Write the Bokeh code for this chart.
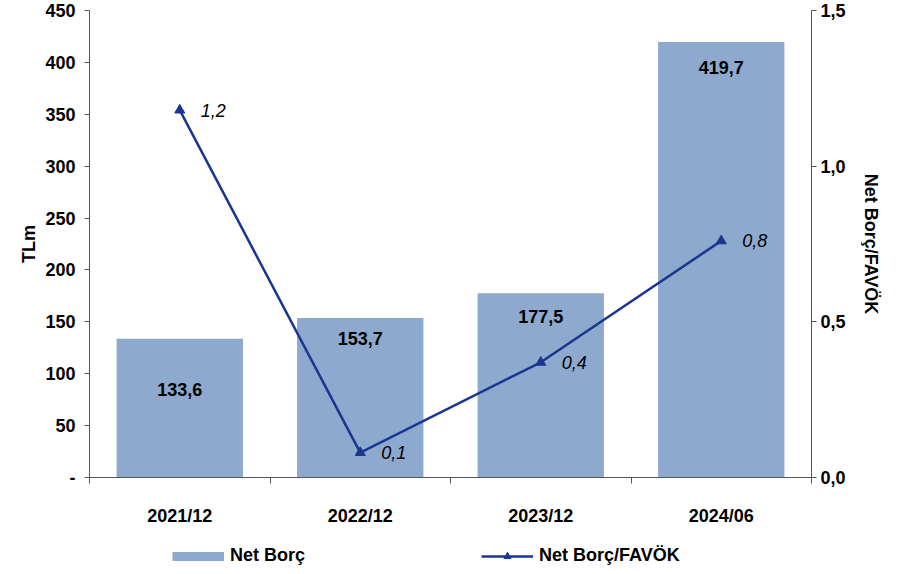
from bokeh.plotting import figure
from bokeh.layouts import column
from bokeh.models import (ColumnDataSource, Range1d, LinearAxis, FixedTicker,
                          CustomJSTickFormatter, Legend, LegendItem)
from bokeh.core.properties import value
from bokeh.embed import file_html
from bokeh.resources import INLINE

categories = ["2021/12", "2022/12", "2023/12", "2024/06"]
net_borc = [133.6, 153.7, 177.5, 419.7]
ratio = [1.18, 0.08, 0.37, 0.76]
left_ticks = [0, 50, 100, 150, 200, 250, 300, 350, 400, 450]
right_ticks = [0.0, 0.5, 1.0, 1.5]
series_names = ["Net Borç", "Net Borç/FAVÖK"]

BAR = "#8DA9CE"
LINE = "#1A3690"
AXC = "#555555"
FONT = "Liberation Sans"
FS = "18px"

xpos = [i + 0.5 for i in range(len(categories))]
bar_lbl = [f"{v:.1f}".replace(".", ",") for v in net_borc]
ratio_lbl = [f"{v:.1f}".replace(".", ",") for v in ratio]
bar_lbl_off = [51, 21, 23, 26]

src = ColumnDataSource(dict(x=xpos, cat=categories, top=net_borc, lbl=bar_lbl, off=bar_lbl_off,
                            r=ratio, rlbl=ratio_lbl))

p = figure(width=893, height=536, output_backend="svg", toolbar_location=None,
           x_range=Range1d(0, len(categories)), y_range=Range1d(0, 450),
           x_axis_location=None, y_axis_location=None,
           min_border_left=89, min_border_right=82, min_border_top=10, min_border_bottom=59)
p.outline_line_color = None
p.xgrid.visible = False
p.ygrid.visible = False
p.extra_y_ranges = {"ratio": Range1d(0, 1.5)}

def style_axis(ax):
    ax.axis_line_color = AXC
    ax.major_tick_line_color = AXC
    ax.minor_tick_line_color = AXC
    ax.major_tick_in = 0
    ax.minor_tick_in = 0
    ax.major_label_text_font = FONT
    ax.major_label_text_font_style = "bold"
    ax.major_label_text_font_size = FS
    ax.major_label_text_color = "black"
    ax.axis_label_text_font = FONT
    ax.axis_label_text_font_style = "bold"
    ax.axis_label_text_font_size = FS
    ax.axis_label_text_color = "black"

xax = LinearAxis(ticker=FixedTicker(ticks=xpos, minor_ticks=list(range(len(categories) + 1))))
style_axis(xax)
xax.major_label_overrides = {x: c for x, c in zip(xpos, categories)}
xax.major_tick_out = 0
xax.minor_tick_out = 6
xax.major_label_standoff = 22
p.add_layout(xax, "below")

lax = LinearAxis(ticker=FixedTicker(ticks=left_ticks, minor_ticks=[]), axis_label="TLm")
style_axis(lax)
lax.major_tick_out = 5
lax.major_label_standoff = 9
lax.axis_label_standoff = 3
lax.formatter = CustomJSTickFormatter(code="return tick == 0 ? '-' : tick.toFixed(0);")
p.add_layout(lax, "left")

rax = LinearAxis(y_range_name="ratio", ticker=FixedTicker(ticks=right_ticks, minor_ticks=[]),
                 axis_label="Net Borç/FAVÖK")
style_axis(rax)
rax.major_tick_out = 5
rax.major_label_standoff = 4
rax.axis_label_standoff = 12
rax.formatter = CustomJSTickFormatter(code="return tick.toFixed(1).replace('.', ',');")
p.add_layout(rax, "right")

p.vbar(x="x", top="top", bottom=0, width=0.7, source=src, fill_color=BAR, line_color=None)
p.text(x="x", y="top", text="lbl", y_offset="off", source=src, text_align="center",
       text_baseline="middle", text_font=value(FONT), text_font_style="bold",
       text_font_size=FS, text_color="black")

p.line(x="x", y="r", source=src, y_range_name="ratio", line_color=LINE, line_width=2.5)
p.scatter(x="x", y="r", source=src, y_range_name="ratio", marker="triangle", size=10,
          fill_color=LINE, line_color=LINE)
p.text(x="x", y="r", text="rlbl", source=src, y_range_name="ratio", x_offset=21,
       text_align="left", text_baseline="middle", text_font=value(FONT),
       text_font_style="italic", text_font_size=FS, text_color="black")

# legend strip under the chart (hidden renderers only feed the legend swatches)
lg_fig = figure(width=893, height=30, output_backend="svg", toolbar_location=None,
                x_range=Range1d(0, 1), y_range=Range1d(0, 1),
                x_axis_location=None, y_axis_location=None,
                min_border_left=0, min_border_right=0, min_border_top=0, min_border_bottom=0)
lg_fig.outline_line_color = None
lg_fig.xgrid.visible = False
lg_fig.ygrid.visible = False
sw_bar = lg_fig.line(x="x", y="top", source=src, line_color=BAR, line_width=9, visible=False)
sw_line = lg_fig.line(x="x", y="r", source=src, line_color=LINE, line_width=2.5, visible=False)
sw_mark = lg_fig.scatter(x="x", y="r", source=src, marker="triangle", size=10,
                         fill_color=LINE, line_color=LINE, visible=False)

lg = Legend(items=[LegendItem(label=series_names[0], renderers=[sw_bar]),
                   LegendItem(label=series_names[1], renderers=[sw_line, sw_mark])],
            location=(83, 0), orientation="horizontal", glyph_width=52,
            glyph_height=18, label_height=18, padding=0, margin=0, spacing=176,
            label_standoff=6, border_line_color=None, background_fill_alpha=0,
            inactive_fill_alpha=0,
            label_text_font=FONT, label_text_font_style="bold",
            label_text_font_size=FS, label_text_color="black")
lg_fig.add_layout(lg, "center")

layout = column(p, lg_fig, spacing=0)
open("out.html", "w").write(file_html(layout, INLINE))
